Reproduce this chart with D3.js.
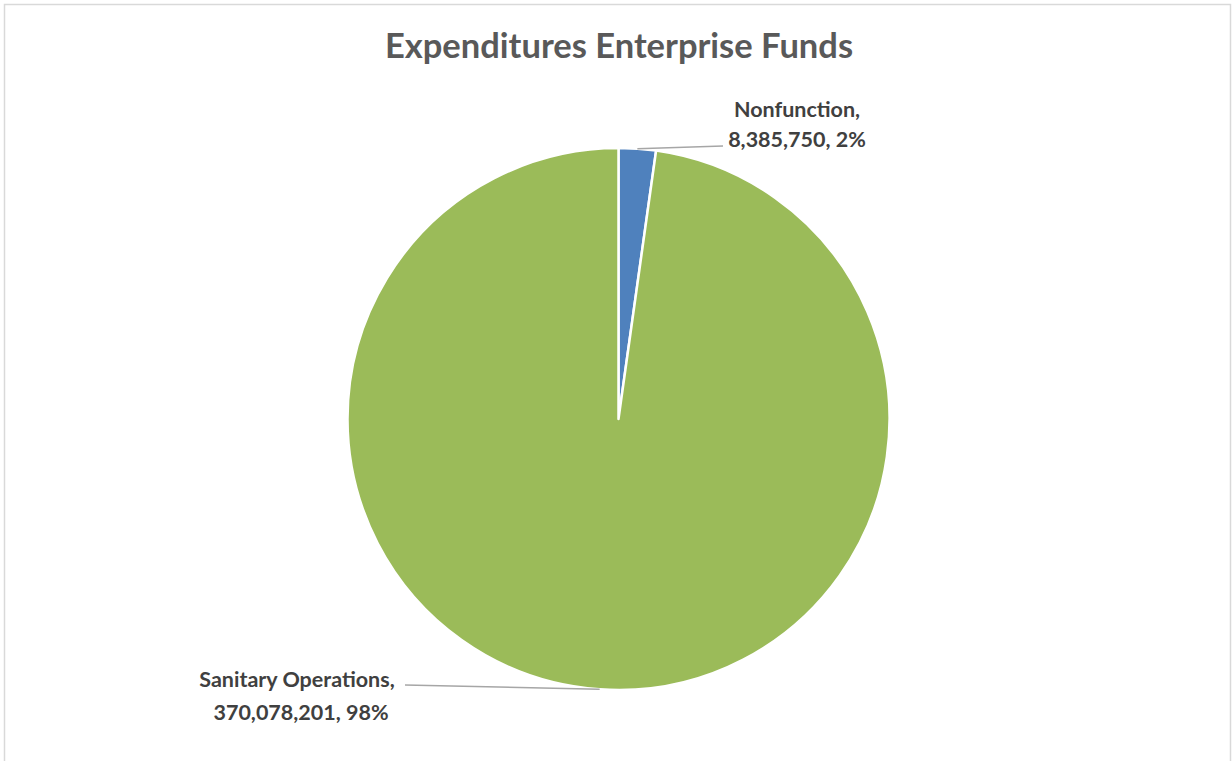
<!DOCTYPE html>
<html>
<head>
<meta charset="utf-8">
<script src="https://cdn.jsdelivr.net/npm/d3@7"></script>
<style>
  html, body { margin: 0; padding: 0; background: #ffffff; }
  svg { display: block; }
</style>
</head>
<body>
<svg id="chart" width="1232" height="761"></svg>
<script>
// Expenditure categories and their amounts
const categories = ["Nonfunction", "Sanitary Operations"];
const amounts = [8385750, 370078201];
const percentLabels = ["2%", "98%"];
const sliceColors = ["#4f81bd", "#9bbb59"];
const chartTitle = "Expenditures Enterprise Funds";

const width = 1232, height = 761;
const cx = 618.5, cy = 419, radius = 271;

const svg = d3.select("#chart");

// chart area frame
svg.append("rect")
  .attr("x", 4.5).attr("y", 4.5)
  .attr("width", 1226).attr("height", 780)
  .attr("fill", "#ffffff")
  .attr("stroke", "#d9d9d9")
  .attr("stroke-width", 1.5);

svg.append("text")
  .attr("x", 619).attr("y", 58)
  .attr("text-anchor", "middle")
  .attr("font-family", "Lato, 'Open Sans', sans-serif")
  .attr("font-weight", "bold")
  .attr("font-size", 34.5)
  .attr("fill", "#595959")
  .text(chartTitle);

const data = categories.map((c, i) => ({ name: c, value: amounts[i], pct: percentLabels[i], color: sliceColors[i] }));

const pie = d3.pie().value(d => d.value).sort(null);
const arcs = pie(data);
const arc = d3.arc().innerRadius(0).outerRadius(radius);

const g = svg.append("g").attr("transform", `translate(${cx},${cy})`);

g.selectAll("path.slice")
  .data(arcs)
  .join("path")
  .attr("class", "slice")
  .attr("d", arc)
  .attr("fill", d => d.data.color)
  .attr("stroke", "#ffffff")
  .attr("stroke-width", 2.5)
  .attr("stroke-linejoin", "round");

// label placement: line end and text centre for each slice
const labelSpots = [
  { lineEnd: [723, 146], textX: [797, 797], textY: [117, 147] },
  { lineEnd: [405, 685], textX: [297, 301], textY: [687, 720] }
];

const fmt = d3.format(",");

arcs.forEach((a, i) => {
  const mid = (a.startAngle + a.endAngle) / 2;
  const px = cx + radius * Math.sin(mid);
  const py = cy - radius * Math.cos(mid);
  const spot = labelSpots[i];

  svg.append("line")
    .attr("x1", px).attr("y1", py)
    .attr("x2", spot.lineEnd[0]).attr("y2", spot.lineEnd[1])
    .attr("stroke", "#a6a6a6")
    .attr("stroke-width", 1.5);

  const t = svg.append("text")
    .attr("text-anchor", "middle")
    .attr("font-family", "Lato, 'Open Sans', sans-serif")
    .attr("font-weight", "bold")
    .attr("font-size", 21.5)
    .attr("fill", "#404040");
  t.append("tspan").attr("x", spot.textX[0]).attr("y", spot.textY[0]).text(a.data.name + ",");
  t.append("tspan").attr("x", spot.textX[1]).attr("y", spot.textY[1]).text(fmt(a.data.value) + ", " + a.data.pct);
});
</script>
</body>
</html>
